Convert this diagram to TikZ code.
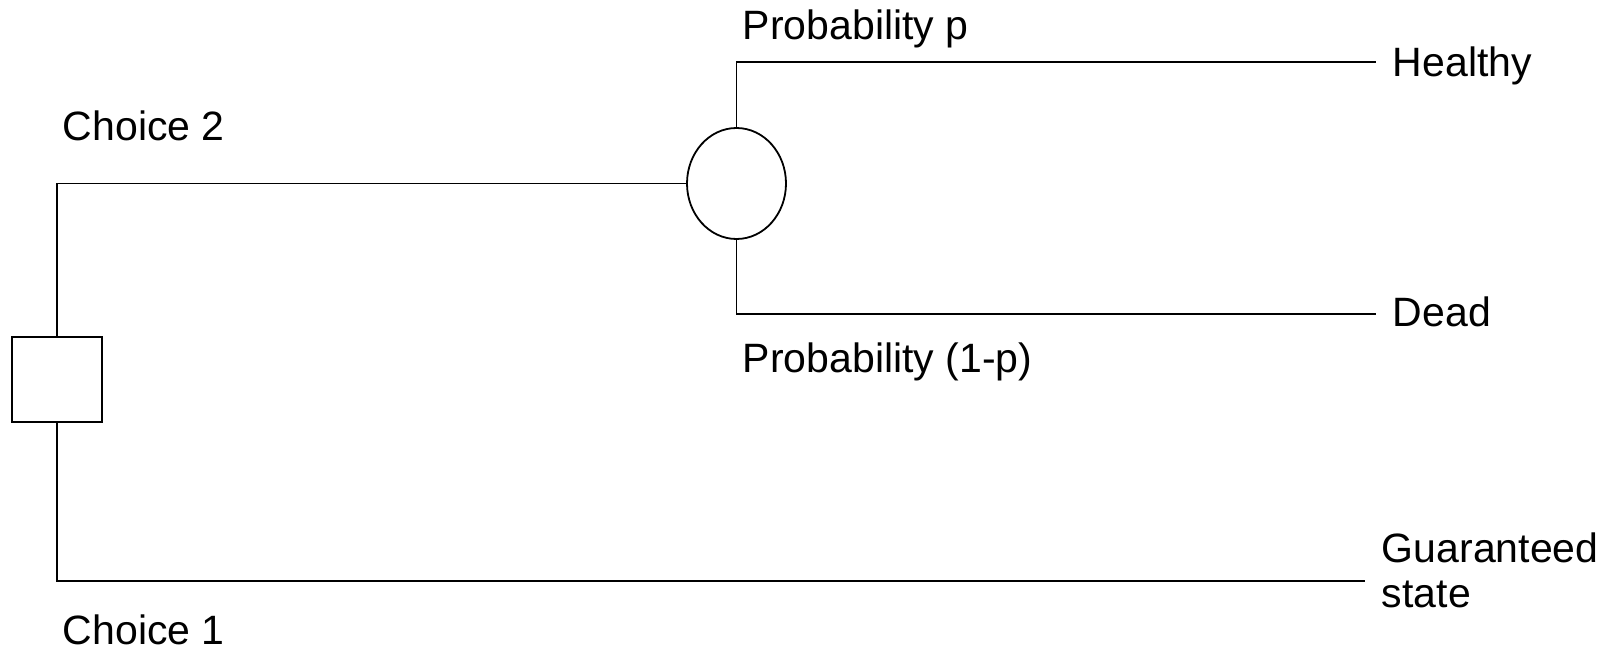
\documentclass[tikz,border=0pt]{standalone}
\usepackage{fontspec,tikz}
\usetikzlibrary{shapes.geometric}
\setmainfont{Liberation Sans}

\begin{document}
\begin{tikzpicture}[x=1pt,y=-1pt,line width=1.8pt,
  lbl/.style={anchor=base west,inner sep=0pt,align=left,font=\fontsize{41}{45}\selectfont},
  decbox/.style={draw,rectangle,minimum width=90pt,minimum height=85pt,inner sep=0pt},
  chancebox/.style={draw,ellipse,minimum width=99pt,minimum height=111pt,inner sep=0pt}]
\path[use as bounding box] (0,0) rectangle (1604,650);
% decision and chance nodes
\node[decbox] (decision) at (57,379.5) {};
\node[chancebox] (chance) at (736.5,183.5) {};
% free ends of the branches
\coordinate (healthyend) at (1376,62);
\coordinate (deadend) at (1376,314);
\coordinate (guarend) at (1365,581);
% labels
\node[lbl] (choicetwo) at (62,141) {Choice 2};
\node[lbl] (choiceone) at (62,644) {Choice 1};
\node[lbl] (probp) at (742,40) {Probability p};
\node[lbl] (probq) at (742,372) {Probability (1-p)};
\node[lbl] (healthy) at (1392,77) {Healthy};
\node[lbl] (dead) at (1392,326) {Dead};
\node[lbl] (guar) at (1381,607) {Guaranteed\\state};
% branches
\draw (decision.north) |- (chance.west);
\draw (decision.south) |- (guarend);
\draw (chance.north) |- (healthyend);
\draw (chance.south) |- (deadend);
\end{tikzpicture}
\end{document}
